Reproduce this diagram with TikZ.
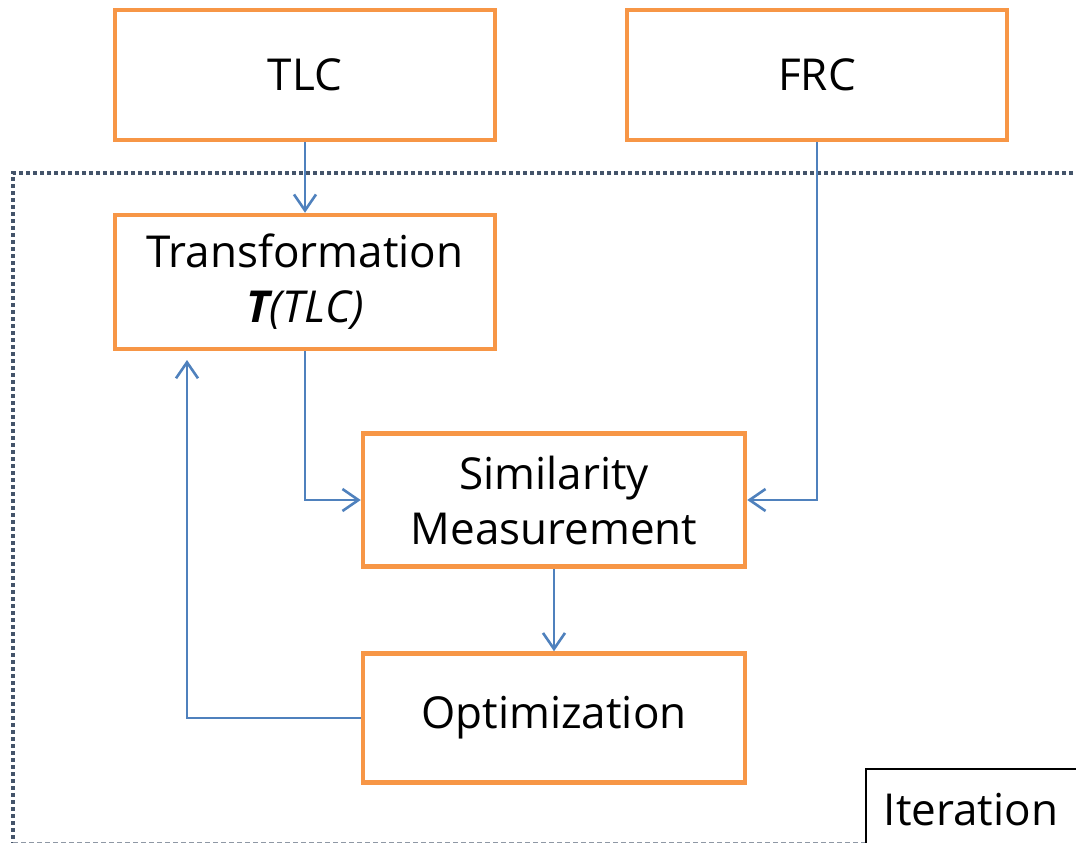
\documentclass[tikz,border=0pt]{standalone}
\usepackage{fontspec}
\setmainfont{Open Sans}
\usetikzlibrary{arrows.meta}
\definecolor{boxorange}{RGB}{247,150,70}
\definecolor{linkblue}{RGB}{79,129,189}
\definecolor{dotblue}{RGB}{68,84,106}
\tikzset{
  obox/.style={draw=boxorange, line width=4.5pt, fill=white, inner sep=0pt, align=center, font=\fontsize{44}{55}\selectfont},
  link/.style={draw=linkblue, line width=2.6pt, -{Straight Barb[length=16pt,width=22pt,line width=2.6pt]}},
}
\begin{document}
\begin{tikzpicture}[x=1pt,y=-1pt]
\useasboundingbox (0,0) rectangle (1076,843);
\draw[dotblue, line width=4pt, dash pattern=on 4pt off 3pt] (1080,173) -- (13,173) -- (13,843);
\draw[dotblue!60, line width=2pt, dash pattern=on 5pt off 3pt] (13,842.5) -- (1080,842.5);
\node[obox, minimum width=380pt, minimum height=130pt] (tlc) at (305,75) {TLC};
\node[obox, minimum width=380pt, minimum height=130pt] (frc) at (817,75) {FRC};
\node[obox, minimum width=380pt, minimum height=134pt] (tr) at (305,282) {Transformation\\\textit{\textbf{T}(TLC)}};
\node[obox, minimum width=382pt, minimum height=133pt] (sim) at (554,500) {Similarity\\Measurement};
\node[obox, minimum width=382pt, minimum height=129pt] (opt) at (554,718) {Optimization};
\node[draw=black, line width=2.2pt, fill=white, minimum width=220pt, minimum height=80pt, anchor=north west, inner sep=0pt, font=\fontsize{44}{55}\selectfont] (it) at (865,768) {\hspace*{-10pt}Iteration};
\coordinate (fb) at (187,360);
\draw[link] (tlc.south) -- (tr.north);
\draw[link] (frc.south) |- (sim.east);
\draw[link] (tr.south) |- (sim.west);
\draw[link] (sim.south) -- (opt.north);
\draw[link] (opt.west) -| (fb);
\end{tikzpicture}
\end{document}
